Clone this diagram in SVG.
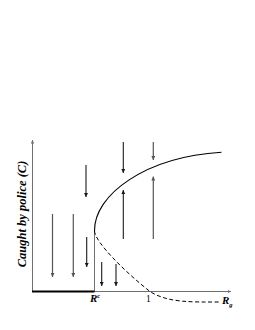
<svg xmlns="http://www.w3.org/2000/svg" width="255" height="330" viewBox="0 0 255 330">
<defs>
<style>
.axis{stroke:#707070;stroke-width:1;fill:none}
.dk{stroke:#1a1a1a;stroke-width:1.1;fill:none;marker-end:url(#hd)}
.gr{stroke:#555;stroke-width:1.2;fill:none;marker-end:url(#hg)}
.curve{stroke:#000;stroke-width:1.1;fill:none}
.dash{stroke:#000;stroke-width:1;fill:none;stroke-dasharray:4,2.5}
.lbl{font-family:"Liberation Serif",serif;font-weight:bold;font-style:italic;fill:#000}
.num{font-family:"Liberation Serif",serif;fill:#000}
</style>
<marker id="hd" viewBox="0 0 6 6" refX="6" refY="3" markerWidth="4" markerHeight="4" markerUnits="userSpaceOnUse" orient="auto"><path d="M0,0 L6,3 L0,6 z" fill="#1a1a1a"/></marker>
<marker id="hg" viewBox="0 0 6 6" refX="6" refY="3" markerWidth="4" markerHeight="4" markerUnits="userSpaceOnUse" orient="auto"><path d="M0,0 L6,3 L0,6 z" fill="#555"/></marker>
<marker id="ha" viewBox="0 0 6 6" refX="6" refY="3" markerWidth="3.5" markerHeight="3.5" markerUnits="userSpaceOnUse" orient="auto"><path d="M0,0 L6,3 L0,6 z" fill="#707070"/></marker>
</defs>
<g id="axes">
<line class="axis" x1="32.5" y1="291.5" x2="32.5" y2="140" marker-end="url(#ha)"/>
<line class="axis" x1="94" y1="291.5" x2="231" y2="291.5" marker-end="url(#ha)"/>
<line class="axis" x1="94.5" y1="231" x2="94.5" y2="291.5"/>
<line x1="32" y1="291.5" x2="94.5" y2="291.5" stroke="#000" stroke-width="2.2"/>
</g>
<g id="curves">
<path class="curve" d="M94.5,231 C94,195 145,157 221.5,152.3"/>
<path class="dash" d="M94.5,231 C95,242 125,272 150,291.5 C168,303 192,302 221,302"/>
</g>
<g id="connectors">
<line class="gr" x1="52.5" y1="214" x2="52.5" y2="277"/>
<line class="gr" x1="73.3" y1="214" x2="73.3" y2="277"/>
<line class="dk" x1="86" y1="165" x2="86" y2="197"/>
<line class="dk" x1="86.7" y1="237" x2="86.7" y2="267"/>
<line class="dk" x1="101.7" y1="262" x2="101.7" y2="286"/>
<line class="dk" x1="116" y1="264" x2="116" y2="286"/>
<line class="dk" x1="123.3" y1="142" x2="123.3" y2="173"/>
<line class="gr" x1="153.3" y1="142" x2="153.3" y2="160"/>
<line class="dk" x1="123.3" y1="239" x2="123.3" y2="190"/>
<line class="gr" x1="153.3" y1="239" x2="153.3" y2="176.5"/>
</g>
<g id="labels">
<text class="lbl" font-size="12.5" transform="translate(25.5,214) rotate(-90)" text-anchor="middle">Caught  by police (C)</text>
<text class="lbl" font-size="11" x="90" y="302">R<tspan font-size="6.5" dy="-4">c</tspan></text>
<text class="num" font-size="9.5" x="146" y="302">1</text>
<text class="lbl" font-size="11" x="222" y="304">R<tspan font-size="6.5" dy="2.5">g</tspan></text>
</g>
</svg>
